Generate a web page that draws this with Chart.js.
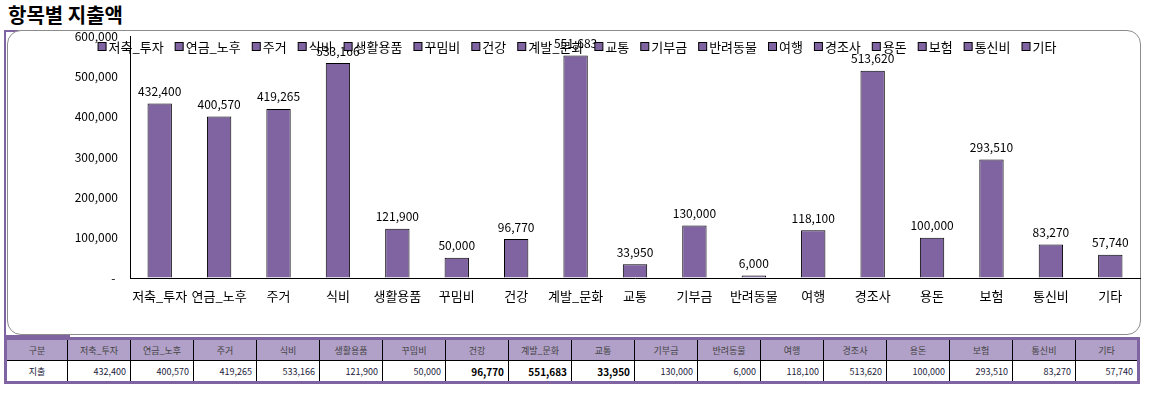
<!DOCTYPE html>
<html>
<head>
<meta charset="utf-8">
<script src="https://cdn.jsdelivr.net/npm/chart.js@4"></script>
<style>
	body { margin:0; width:1162px; height:398px; background:#fff; position:relative; overflow:hidden; font-family:"Noto Sans CJK KR", sans-serif; }
	#title { position:absolute; left:8px; top:2px; font-size:20px; font-weight:bold; line-height:26px; color:#000; }
	#frame { position:absolute; left:4px; top:30px; width:64px; height:303px; border-left:2px solid #8064a2; border-top:2px solid #8064a2; border-bottom:2px solid #8064a2; }
	#box { position:absolute; left:7px; top:30px; width:1132px; height:303px; border:1px solid #8c8c8c; border-radius:14px; background:#fff; }
	#wrap { position:absolute; left:0; top:0; width:1162px; height:334px; }
	#tbl { position:absolute; left:4px; top:337px; border-collapse:collapse; border:3px solid #8064a2; font-size:9px; table-layout:fixed; }
	#tbl td { height:20px; padding:0 4px; border-left:1px solid #000; color:#1a1a3a; white-space:nowrap; }
	#tbl td:first-child { border-left:none; }
	#tbl tr.head td { background:#b1a0c7; text-align:center; color:#444; border-bottom:1px solid #000; }
	#tbl tr.row td { text-align:right; }
	#tbl tr.row td:first-child { text-align:center; }
</style>
</head>
<body>
<div id="title">항목별 지출액</div>
<div id="frame"></div>
<div id="box"></div>
<div id="wrap"><canvas id="chart"></canvas></div>
<table id="tbl"></table>
<script>
var categories = ["저축_투자", "연금_노후", "주거", "식비", "생활용품", "꾸밈비", "건강", "계발_문화", "교통", "기부금", "반려동물", "여행", "경조사", "용돈", "보험", "통신비", "기타"];
var spending = [432400, 400570, 419265, 533166, 121900, 50000, 96770, 551683, 33950, 130000, 6000, 118100, 513620, 100000, 293510, 83270, 57740];
var boldCells = ["건강", "계발_문화", "교통"];
var rowLabels = ["구분", "지출"];
var yMax = 600000;
var yStep = 100000;

var purple = '#8064a2';
var font = '"Noto Sans CJK KR", sans-serif';

function fmt(v) {
	return v.toLocaleString('en-US');
}

// table under the chart
function buildTable() {
	var tbl = document.getElementById('tbl');
	var html = '<colgroup><col style="width:62px">';
	for (var i = 0; i < categories.length; i++) html += '<col style="width:63px">';
	html += '</colgroup><tr class="head"><td>' + rowLabels[0] + '</td>';
	for (var i = 0; i < categories.length; i++) html += '<td>' + categories[i] + '</td>';
	html += '</tr><tr class="row"><td>' + rowLabels[1] + '</td>';
	for (var i = 0; i < categories.length; i++) {
		var b = boldCells.indexOf(categories[i]) >= 0 ? ' style="font-weight:bold;font-size:10px;color:#000"' : '';
		html += '<td' + b + '>' + fmt(spending[i]) + '</td>';
	}
	html += '</tr>';
	tbl.innerHTML = html;
}

// value labels on top of the bars
var valueLabels = {
	id: 'valueLabels',
	afterDatasetsDraw: function(chart) {
		var ctx = chart.ctx;
		var meta = chart.getDatasetMeta(0);
		ctx.save();
		ctx.font = '12px ' + font;
		ctx.fillStyle = '#000';
		ctx.textAlign = 'center';
		ctx.textBaseline = 'middle';
		meta.data.forEach(function(bar, i) {
			ctx.fillText(fmt(spending[i]), bar.x, bar.y - 12);
		});
		ctx.restore();
	}
};

// excel style legend, one entry per category, overlaid at top
var catLegend = {
	id: 'catLegend',
	afterDraw: function(chart) {
		var ctx = chart.ctx;
		ctx.save();
		ctx.font = '13px ' + font;
		var sq = 8, gapIn = 3, gapOut = 11;
		var total = 0;
		var widths = categories.map(function(c) {
			var w = sq + gapIn + ctx.measureText(c).width;
			total += w;
			return w;
		});
		total += gapOut * (categories.length - 1);
		var x = 577 - total / 2;
		var y = 47;
		ctx.textBaseline = 'middle';
		ctx.textAlign = 'left';
		categories.forEach(function(c, i) {
			ctx.fillStyle = purple;
			ctx.fillRect(x + 0.5, y - 4.5, sq, sq);
			ctx.strokeStyle = '#000';
			ctx.lineWidth = 1;
			ctx.strokeRect(x + 0.5, y - 4.5, sq, sq);
			ctx.fillStyle = '#000';
			ctx.fillText(c, x + sq + gapIn, y);
			x += widths[i] + gapOut;
		});
		ctx.restore();
	}
};

function draw() {
	var ctx = document.getElementById('chart').getContext('2d');
	var chart = new Chart(ctx, {
		type: 'bar',
		data: {
			labels: categories,
			datasets: [{
				label: '지출',
				backgroundColor: purple,
				borderColor: '#000',
				borderWidth: 1,
				data: spending,
				categoryPercentage: 1,
				barPercentage: 0.41
			}]
		},
		options: {
			responsive: true,
			maintainAspectRatio: false,
			animation: false,
			layout: { padding: { top: 36, right: 22, left: 0, bottom: 0 } },
			plugins: {
				legend: { display: false },
				tooltip: { enabled: false }
			},
			scales: {
				x: {
					grid: { display: true, drawOnChartArea: false, drawTicks: false },
					border: { display: true, color: '#000', width: 1 },
					ticks: { color: '#000', font: { size: 13, family: font }, padding: 10, maxRotation: 0, autoSkip: false },
					afterFit: function(s) { s.height = 56; }
				},
				y: {
					min: 0,
					max: yMax,
					grid: { display: true, drawOnChartArea: false, drawTicks: false },
					border: { display: true, color: '#000', width: 1 },
					ticks: {
						stepSize: yStep,
						color: '#000',
						font: { size: 12, family: font },
						padding: 12,
						callback: function(v) { return v === 0 ? '- ' : fmt(v); }
					},
					afterFit: function(s) { s.width = 130; }
				}
			}
		},
		plugins: [valueLabels, catLegend]
	});
}

buildTable();
draw();
</script>
</body>
</html>
